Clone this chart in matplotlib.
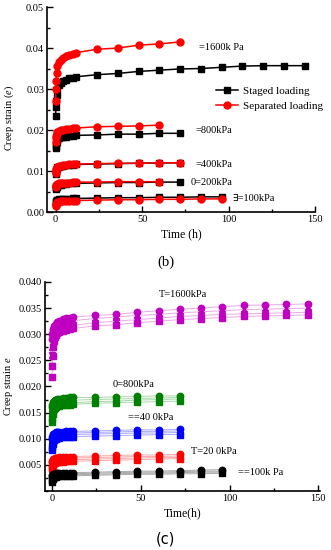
import numpy as np
import matplotlib
matplotlib.use("Agg")
import matplotlib.pyplot as plt
from matplotlib.ticker import MultipleLocator

plt.rcParams['font.family'] = ['Liberation Serif', 'DejaVu Serif']
plt.rcParams['mathtext.fontset'] = 'custom'
plt.rcParams['mathtext.it'] = 'Liberation Serif:italic'

# ---------- panel (b): staged vs separated loading ----------
t_b = [0, 0.1, 0.25, 0.5, 1, 2, 3, 4, 6, 8, 10, 12, 24, 36, 48, 60, 72]
t_b_long = t_b + [84, 96, 108, 120, 132, 144]
t_b_96 = t_b + [84, 96]
t_b_60 = t_b[:-1]

staged_1600 = [0.0235, 0.0255, 0.027, 0.0285, 0.030, 0.031, 0.0315, 0.032, 0.0323, 0.0326, 0.0328, 0.033,
               0.0335, 0.0338, 0.0343, 0.0346, 0.0349, 0.035, 0.0353, 0.0356, 0.0357, 0.0357, 0.0357]
sep_1600 = [0.027, 0.030, 0.032, 0.034, 0.0355, 0.0365, 0.037, 0.0375, 0.038, 0.0383, 0.0385, 0.0389,
            0.0397, 0.0400, 0.0407, 0.0410, 0.0415]
staged_800 = [0.0155, 0.016, 0.0165, 0.017, 0.0175, 0.018, 0.0182, 0.0183, 0.0184, 0.0185, 0.0186, 0.0187,
              0.0188, 0.019, 0.019, 0.0192, 0.0192]
sep_800 = [0.0172, 0.0180, 0.0186, 0.019, 0.0195, 0.0198, 0.020, 0.0201, 0.0202, 0.0203, 0.0204, 0.0205,
           0.0208, 0.0209, 0.0210, 0.0212]
staged_400 = [0.0092, 0.0097, 0.0102, 0.0106, 0.0109, 0.0111, 0.0112, 0.0113, 0.0114, 0.0115, 0.0115, 0.0116,
              0.0117, 0.0118, 0.0119, 0.0120, 0.0120]
sep_400 = [0.0095, 0.0101, 0.0105, 0.0108, 0.011, 0.0112, 0.0113, 0.0114, 0.0115, 0.0116, 0.0116, 0.0117,
           0.0118, 0.0119, 0.0119, 0.012, 0.012]
staged_200 = [0.0055, 0.0058, 0.006, 0.0062, 0.0064, 0.0066, 0.0067, 0.0068, 0.0069, 0.007, 0.007, 0.007,
              0.0071, 0.0072, 0.0072, 0.0073, 0.0073]
sep_200 = [0.0060, 0.0063, 0.0065, 0.0067, 0.0069, 0.0070, 0.0071, 0.0071, 0.0072, 0.0072, 0.0073, 0.0073,
           0.0073, 0.0074, 0.0074, 0.0074]
staged_100 = [0.0022, 0.0025, 0.0027, 0.0029, 0.003, 0.0031, 0.0031, 0.0032, 0.0032, 0.0032, 0.0033, 0.0033,
              0.0034, 0.0035, 0.0035, 0.0036, 0.0036, 0.0037, 0.0037]
sep_100 = [0.0015, 0.0018, 0.002, 0.0022, 0.0024, 0.0025, 0.0026, 0.0027, 0.0027, 0.0028, 0.0028, 0.0028,
           0.0029, 0.003, 0.003, 0.0031, 0.0031, 0.0032, 0.0032]

labels_b = ["=1600k Pa", "=800kPa", "=400kPa", "0=200kPa", "\u2203=100kPa"]
label_b_pos = [(83, 0.0402), (81, 0.0198), (81, 0.0115), (78, 0.0071), (102, 0.0032)]

# ---------- panel (c): repeated tests ----------
t_c = [0, 0.1, 0.25, 0.5, 1, 1.5, 2, 3, 4, 6, 8, 10, 12, 24, 36, 48, 60, 72]
t_c_long = t_c + [84, 96, 108, 120, 132, 144]
t_c_96 = t_c + [84, 96]

c1600 = [
    [0.029, 0.0300, 0.0305, 0.031, 0.0315, 0.0318, 0.032, 0.0323, 0.0326, 0.0329, 0.0331, 0.0332, 0.0333,
     0.0336, 0.0338, 0.0342, 0.0345, 0.0348, 0.035, 0.0353, 0.0355, 0.0356, 0.0357, 0.0358],
    [0.026, 0.0275, 0.0285, 0.0295, 0.0303, 0.0308, 0.0311, 0.0315, 0.0318, 0.0321, 0.0323, 0.0325, 0.0326,
     0.0330, 0.0333, 0.0336, 0.0338, 0.0341, 0.0343, 0.0345, 0.0347, 0.0348, 0.0349, 0.035],
    [0.024, 0.026, 0.0275, 0.0288, 0.0298, 0.0303, 0.0306, 0.0309, 0.0311, 0.0313, 0.0315, 0.0316, 0.0317,
     0.0322, 0.0325, 0.0328, 0.0331, 0.0334, 0.0336, 0.0338, 0.0339, 0.034, 0.0341, 0.0342],
    [0.0218, 0.024, 0.0258, 0.0275, 0.0288, 0.0295, 0.0299, 0.0302, 0.0305, 0.0307, 0.0309, 0.031, 0.0311,
     0.0316, 0.0318, 0.0322, 0.0325, 0.0328, 0.033, 0.0332, 0.0334, 0.0335, 0.0336, 0.0337],
]
c800 = [
    [0.0160, 0.0164, 0.0167, 0.0170, 0.0172, 0.0174, 0.0175, 0.0176, 0.0177, 0.0178, 0.0178, 0.0179, 0.0179,
     0.0179, 0.0180, 0.0181, 0.0182, 0.0182],
    [0.0150, 0.0156, 0.0160, 0.0164, 0.0167, 0.0169, 0.0170, 0.0171, 0.0172, 0.0173, 0.0173, 0.0174, 0.0174,
     0.0175, 0.0176, 0.0177, 0.0178, 0.0179],
    [0.0142, 0.0150, 0.0155, 0.0159, 0.0162, 0.0164, 0.0165, 0.0166, 0.0167, 0.0168, 0.0168, 0.0169, 0.0169,
     0.0171, 0.0172, 0.0174, 0.0175, 0.0176],
    [0.0132, 0.0140, 0.0147, 0.0153, 0.0157, 0.0159, 0.0161, 0.0162, 0.0163, 0.0164, 0.0165, 0.0165, 0.0166,
     0.0168, 0.0169, 0.0170, 0.0171, 0.0172],
]
c400 = [
    [0.0100, 0.0104, 0.0107, 0.0109, 0.0110, 0.0111, 0.0112, 0.0112, 0.0113, 0.0113, 0.0114, 0.0114, 0.0114,
     0.0115, 0.0116, 0.0117, 0.0117, 0.0118],
    [0.0093, 0.0098, 0.0102, 0.0105, 0.0107, 0.0108, 0.0109, 0.0109, 0.0110, 0.0110, 0.0111, 0.0111, 0.0111,
     0.0112, 0.0113, 0.0114, 0.0114, 0.0115],
    [0.0086, 0.0092, 0.0097, 0.0100, 0.0103, 0.0104, 0.0105, 0.0106, 0.0106, 0.0107, 0.0107, 0.0108, 0.0108,
     0.0109, 0.0110, 0.0111, 0.0111, 0.0112],
    [0.0078, 0.0085, 0.0090, 0.0094, 0.0097, 0.0099, 0.0100, 0.0101, 0.0102, 0.0103, 0.0103, 0.0104, 0.0104,
     0.0105, 0.0106, 0.0107, 0.0108, 0.0108],
]
c200 = [
    [0.0055, 0.0058, 0.0060, 0.0061, 0.0062, 0.0063, 0.0064, 0.0064, 0.0065, 0.0065, 0.0066, 0.0066, 0.0066,
     0.0067, 0.0068, 0.0069, 0.0069, 0.0070],
    [0.0050, 0.0053, 0.0056, 0.0058, 0.0059, 0.0060, 0.0061, 0.0061, 0.0062, 0.0062, 0.0063, 0.0063, 0.0063,
     0.0064, 0.0065, 0.0066, 0.0066, 0.0067],
    [0.0046, 0.0050, 0.0053, 0.0055, 0.0056, 0.0057, 0.0058, 0.0058, 0.0059, 0.0059, 0.0060, 0.0060, 0.0060,
     0.0061, 0.0062, 0.0063, 0.0064, 0.0064],
    [0.0042, 0.0046, 0.0049, 0.0051, 0.0053, 0.0054, 0.0055, 0.0055, 0.0056, 0.0056, 0.0057, 0.0057, 0.0057,
     0.0058, 0.0059, 0.0060, 0.0061, 0.0062],
]
c100 = [
    [0.0028, 0.0030, 0.0031, 0.0032, 0.0033, 0.0033, 0.0034, 0.0034, 0.0034, 0.0035, 0.0035, 0.0035, 0.0035,
     0.0036, 0.0037, 0.0038, 0.0038, 0.0039, 0.0040, 0.0041],
    [0.0025, 0.0027, 0.0029, 0.0030, 0.0031, 0.0031, 0.0032, 0.0032, 0.0032, 0.0033, 0.0033, 0.0033, 0.0033,
     0.0034, 0.0035, 0.0036, 0.0036, 0.0037, 0.0038, 0.0038],
    [0.0022, 0.0024, 0.0026, 0.0027, 0.0028, 0.0029, 0.0029, 0.0030, 0.0030, 0.0030, 0.0031, 0.0031, 0.0031,
     0.0032, 0.0033, 0.0034, 0.0034, 0.0035, 0.0036, 0.0036],
    [0.0018, 0.0021, 0.0023, 0.0025, 0.0026, 0.0027, 0.0027, 0.0028, 0.0028, 0.0028, 0.0029, 0.0029, 0.0029,
     0.0030, 0.0031, 0.0032, 0.0032, 0.0033, 0.0033, 0.0034],
]

labels_c = ["T=1600kPa", "0=800kPa", "==40 0kPa", "T=20 0kPa", "==100k Pa"]
label_c_pos = [(60, 0.0377), (34, 0.0203), (43, 0.0140), (78, 0.0075), (105, 0.0036)]

fig = plt.figure(figsize=(3.31, 5.5), dpi=100)

# ---- (b) ----
ax1 = fig.add_axes([0.142, 0.6145, 0.81, 0.3727])
ms = 4.4
pairs = [(t_b_long, staged_1600, t_b, sep_1600),
         (t_b, staged_800, t_b_60, sep_800),
         (t_b, staged_400, t_b, sep_400),
         (t_b, staged_200, t_b_60, sep_200),
         (t_b_96, staged_100, t_b_96, sep_100)]
for i, (ts, ys, tr, yr) in enumerate(pairs):
    ax1.plot(ts, ys, color='black', marker='s', ms=ms, lw=1.1,
             label="Staged loading" if i == 0 else None, zorder=3)
    ax1.plot(tr, yr, color='red', marker='o', ms=ms + 0.6, lw=1.1,
             label="Separated loading" if i == 0 else None, zorder=4)
for txt, (x, y) in zip(labels_b, label_b_pos):
    ax1.text(x, y, txt, fontsize=7.5, va='center', ha='left')

ax1.set_xlim(-5, 150)
ax1.set_ylim(0, 0.05)
ax1.xaxis.set_major_locator(MultipleLocator(50))
ax1.xaxis.set_minor_locator(MultipleLocator(25))
ax1.yaxis.set_major_locator(MultipleLocator(0.01))
ax1.yaxis.set_minor_locator(MultipleLocator(0.005))
ax1.yaxis.set_major_formatter(matplotlib.ticker.FormatStrFormatter('%.2f'))
ax1.set_xlabel("Time (h)", fontsize=8.5, labelpad=3)
ax1.set_ylabel(r"Creep strain ($e$)", fontsize=7.5)
ax1.yaxis.set_label_coords(-0.115, 0.46)
ax1.legend(loc='upper left', bbox_to_anchor=(0.6, 0.65), frameon=False, fontsize=8,
           handlelength=2.0, handletextpad=0.5, borderpad=0.2, labelspacing=0.45)

# ---- (c) ----
ax2 = fig.add_axes([0.136, 0.1073, 0.831, 0.38])
colors = ['#c000c0', '#008000', '#0000ff', '#ff0000', '#000000']
lcolors = ['#e8a8e8', '#a8d8a8', '#a8a8ff', '#ffa8a8', '#a8a8a8']
markers = ['o', '^', 'v', 's']
groups = [(t_c_long, c1600), (t_c, c800), (t_c, c400), (t_c, c200), (t_c_96, c100)]
for k, (tt, curves) in enumerate(groups):
    for j, yy in enumerate(curves):
        ax2.plot(tt, yy, color=lcolors[k], lw=0.7, zorder=2)
        ax2.plot(tt, yy, ls='none', marker=markers[j], ms=4.6, color=colors[k], zorder=3)
for txt, (x, y) in zip(labels_c, label_c_pos):
    ax2.text(x, y, txt, fontsize=7.5, va='center', ha='left')

ax2.set_xlim(-4, 151)
ax2.set_ylim(0, 0.040)
ax2.xaxis.set_major_locator(MultipleLocator(50))
ax2.xaxis.set_minor_locator(MultipleLocator(25))
ax2.yaxis.set_major_locator(MultipleLocator(0.005))
ax2.yaxis.set_minor_locator(MultipleLocator(0.0025))
ax2.set_yticks([0.005, 0.010, 0.015, 0.020, 0.025, 0.030, 0.035, 0.040])
ax2.yaxis.set_major_formatter(matplotlib.ticker.FormatStrFormatter('%.3f'))
ax2.set_xlabel("Time(h)", fontsize=8.5, labelpad=3)
ax2.set_ylabel(r"Creep strain $e$", fontsize=7.5)
ax2.yaxis.set_label_coords(-0.108, 0.5)

for ax in (ax1, ax2):
    for s in ('top', 'right'):
        ax.spines[s].set_visible(False)
    ax.spines['left'].set_linewidth(1.2)
    ax.spines['bottom'].set_linewidth(1.2)
    ax.tick_params(which='both', direction='in', labelsize=7.5, width=1, pad=2)
    ax.tick_params(which='major', length=4)
    ax.tick_params(which='minor', length=2)

fig.text(0.5, 1 - 262 / 550, "(b)", fontsize=10.5, ha='center', va='center')
fig.text(0.5, 1 - 539 / 550, "(c)", fontsize=10.5, ha='center', va='center', family='DejaVu Sans')

fig.savefig("out.png", dpi=100)
